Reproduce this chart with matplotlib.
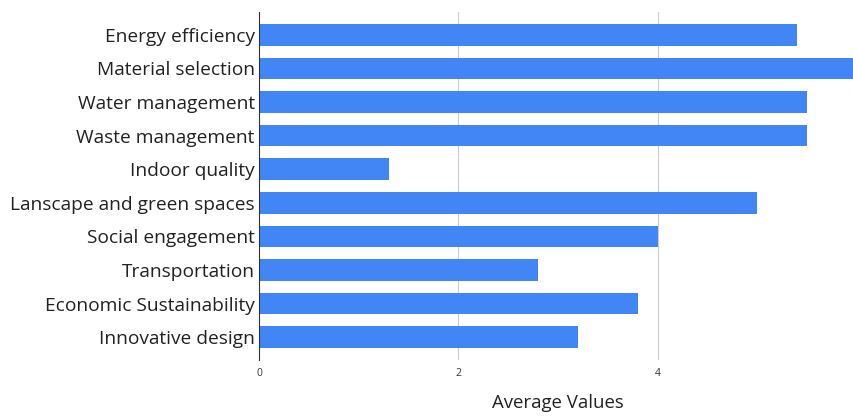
import matplotlib

matplotlib.use("Agg")
import matplotlib.pyplot as plt

# values (top to bottom)
categories = [
    "Energy efficiency",
    "Material selection",
    "Water management",
    "Waste management",
    "Indoor quality",
    "Lanscape and green spaces",
    "Social engagement",
    "Transportation",
    "Economic Sustainability",
    "Innovative design",
]
avg_values = [5.4, 6.0, 5.5, 5.5, 1.3, 5.0, 4.0, 2.8, 3.8, 3.2]
x_ticks = [0, 2, 4]

BAR_COLOR = "#4285f4"

plt.rcParams["font.family"] = ["Open Sans", "DejaVu Sans"]

fig = plt.figure(figsize=(8.54, 4.18), dpi=100)
ax = fig.add_axes([0.3033, 0.1388, 0.7002, 0.8325])

ypos = list(range(len(categories)))
ax.barh(ypos, avg_values, height=0.645, color=BAR_COLOR, zorder=2)

ax.set_yticks(ypos)
ax.set_yticklabels(categories, fontsize=13.8, color="#222222")
ax.set_ylim(len(categories) - 1 + 0.68, -0.68)

ax.set_xlim(0, 6)
ax.set_xticks(x_ticks)
ax.set_xticklabels([str(v) for v in x_ticks], fontsize=7.5, color="#333333")
ax.set_xlabel("Average Values", fontsize=13.4, color="#222222", labelpad=11)

ax.grid(axis="x", color="#cccccc", lw=0.8, zorder=0)
ax.tick_params(axis="both", length=0)
ax.tick_params(axis="y", pad=3)
ax.tick_params(axis="x", pad=5.5)
for side in ["top", "right", "bottom"]:
    ax.spines[side].set_visible(False)
ax.spines["left"].set_color("#333333")
ax.spines["left"].set_linewidth(0.8)
ax.spines["left"].set_zorder(3)

fig.savefig("out.png", dpi=100)
